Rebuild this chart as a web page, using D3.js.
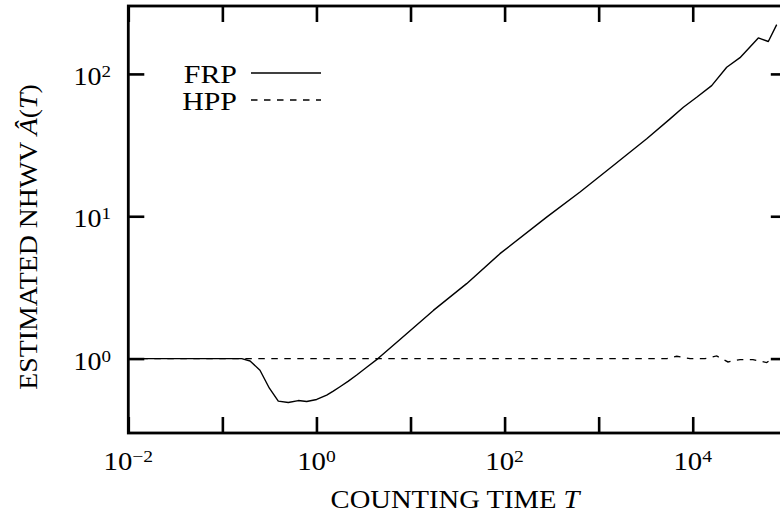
<!DOCTYPE html>
<html>
<head>
<meta charset="utf-8">
<script src="https://cdn.jsdelivr.net/npm/d3@7"></script>
<style>
  html, body { margin: 0; padding: 0; background: #fff; }
  svg { display: block; }
  text { font-family: "Liberation Serif", "Times New Roman", serif; fill: #000; }
</style>
</head>
<body>
<svg id="chart" width="780" height="515"></svg>
<script>
// ---- data ----
const frpT = [0.01, 0.03, 0.1, 0.1606, 0.197, 0.251, 0.316, 0.393, 0.502, 0.641, 0.788, 1.006, 1.285, 1.51, 1.78, 2.165, 2.68, 3.45, 4.51, 7.73, 17.5, 39.5, 89.3, 280, 634, 1432, 3243, 5740, 7950, 11020, 15900, 22970, 31800, 49800, 63600, 78100];
const frpA = [1.0, 1.0, 1.0, 1.0, 0.962, 0.828, 0.619, 0.502, 0.491, 0.507, 0.499, 0.516, 0.554, 0.591, 0.634, 0.692, 0.766, 0.872, 1.0, 1.36, 2.18, 3.36, 5.46, 9.86, 14.8, 22.7, 35.0, 48.3, 58.3, 68.5, 82.8, 111.3, 130, 179, 169, 222];
const hppT = [0.01, 5330, 6760, 9360, 13500, 17990, 23700, 31800, 43700, 61100, 69200, 80000];
const hppA = [1.0, 1.0, 1.038, 1.0, 1.0, 1.043, 0.947, 0.984, 0.984, 0.937, 1.0, 0.99];
const xTicks = [1e-2, 1e-1, 1e0, 1e1, 1e2, 1e3, 1e4, 1e5];
const xLabelExps = [-2, 0, 2, 4];
const yTicks = [1, 10, 100];
const yLabelExps = [0, 1, 2];
const seriesNames = ["FRP", "HPP"];

(function () {
// ---- layout ----
const pL = 128.3, pT = 6, pB = 433, pR = 786.8;
const x = d3.scaleLog().domain([1e-2, 1e5]).range([pL, pR]);
const y = d3.scaleLog().domain([0.3, 300]).range([pB, pT]);

const svg = d3.select("#chart");
const tick = 16;

// data lines
const frp = frpT.map((t, i) => [t, frpA[i]]);
const hpp = hppT.map((t, i) => [t, hppA[i]]);
const line = d3.line().x(d => x(d[0])).y(d => y(d[1]));

svg.append("path").datum(hpp).attr("d", line)
  .attr("fill", "none").attr("stroke", "#000").attr("stroke-width", 1.3)
  .attr("stroke-dasharray", "6.5,6.5");
svg.append("path").datum(frp).attr("d", line)
  .attr("fill", "none").attr("stroke", "#000").attr("stroke-width", 1.4)
  .attr("stroke-linejoin", "round");

// axes (ticks inward)
function styleAxis(g) {
  g.select(".domain").remove();
  g.selectAll(".tick line").attr("stroke", "#000").attr("stroke-width", 2.6);
  g.selectAll(".tick text").remove();
}
svg.append("g").attr("transform", `translate(0,${pB})`)
  .call(d3.axisBottom(x).tickValues(xTicks).tickSizeInner(-tick).tickSizeOuter(0).tickFormat(""))
  .call(styleAxis);
svg.append("g").attr("transform", `translate(0,${pT})`)
  .call(d3.axisTop(x).tickValues(xTicks).tickSizeInner(-tick).tickSizeOuter(0).tickFormat(""))
  .call(styleAxis);
svg.append("g").attr("transform", `translate(${pL},0)`)
  .call(d3.axisLeft(y).tickValues(yTicks).tickSizeInner(-tick).tickSizeOuter(0).tickFormat(""))
  .call(styleAxis);
svg.append("g").attr("transform", `translate(${pR},0)`)
  .call(d3.axisRight(y).tickValues(yTicks).tickSizeInner(-tick).tickSizeOuter(0).tickFormat(""))
  .call(styleAxis);

// frame
svg.append("rect").attr("x", pL).attr("y", pT)
  .attr("width", pR - pL).attr("height", pB - pT)
  .attr("fill", "none").attr("stroke", "#000").attr("stroke-width", 2.8);

// text helper: horizontally widened serif text (Computer Modern look)
function label(tx, ty, anchor, size, sx, rot) {
  const g = svg.append("g").attr("transform",
    `translate(${tx},${ty})` + (rot ? ` rotate(${rot})` : "") + ` scale(${sx},1)`);
  return g.append("text").attr("x", 0).attr("y", 0)
    .attr("text-anchor", anchor).attr("font-size", size);
}

// tick labels
const fs = 25, sfs = 17;
function powLabel(sel, e) {
  sel.append("tspan").text("10");
  sel.append("tspan").attr("dy", -8).attr("font-size", sfs).text(e < 0 ? "\u2212" + (-e) : String(e));
}
xLabelExps.forEach(e => {
  const t = label(x(Math.pow(10, e)), pB + 37, "middle", fs, 1.15);
  powLabel(t, e);
});
yLabelExps.forEach(e => {
  const t = label(111, y(Math.pow(10, e)) + 11, "end", fs, 1.12);
  powLabel(t, e);
});

// axis titles
const xt = label(455, 508, "middle", 26, 1.1);
xt.append("tspan").text("COUNTING TIME ");
xt.append("tspan").attr("font-style", "italic").text("T");

const yt = label(37, 237, "middle", 26, 1.07, -90);
yt.append("tspan").text("ESTIMATED NHWV ");
yt.append("tspan").attr("font-style", "italic").text("\u00C2");
yt.append("tspan").text("(");
yt.append("tspan").attr("font-style", "italic").text("T");
yt.append("tspan").text(")");

// legend
const legY = [73, 100];
seriesNames.forEach((n, i) => {
  label(237, legY[i] + 10, "end", 26, 1.15).text(n);
  svg.append("line").attr("x1", 251).attr("x2", 321).attr("y1", legY[i]).attr("y2", legY[i])
    .attr("stroke", "#000").attr("stroke-width", 1.3)
    .attr("stroke-dasharray", i === 1 ? "6.5,6.5" : null);
});
})();
</script>
</body>
</html>
